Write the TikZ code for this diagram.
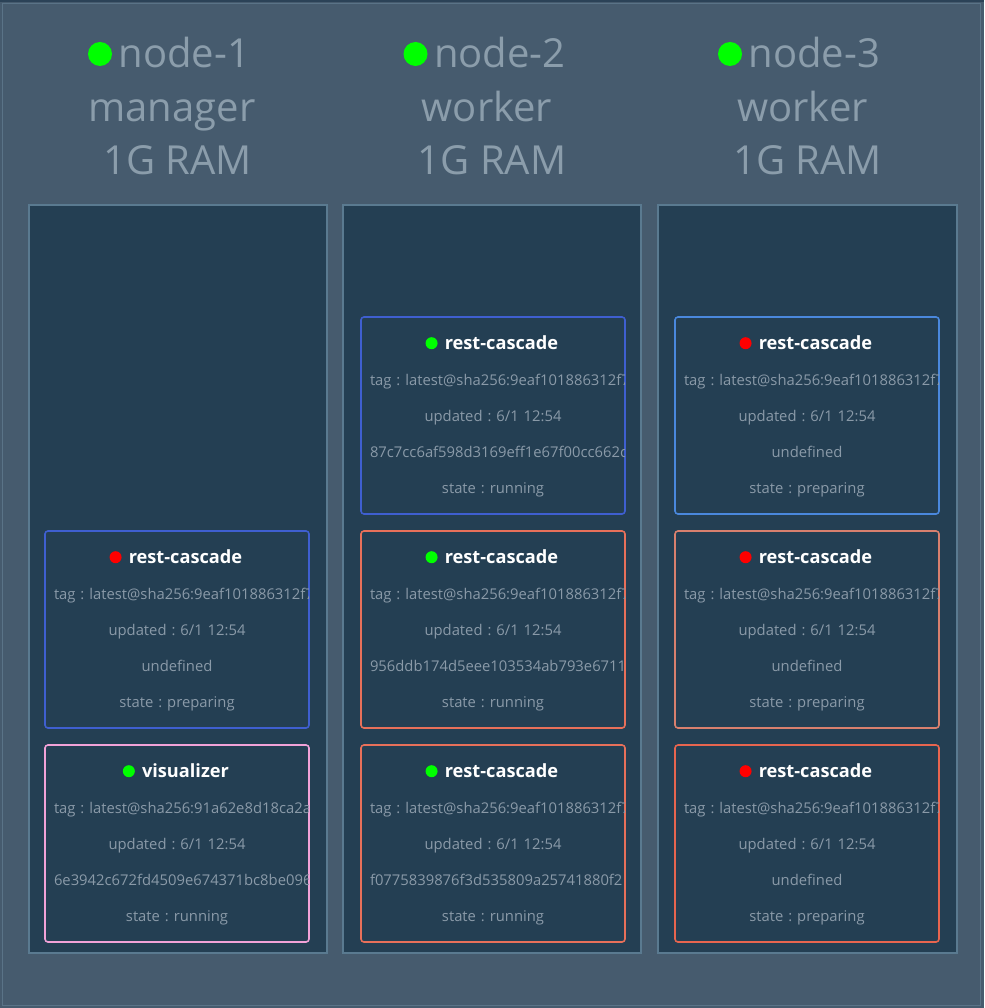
\documentclass[tikz,border=0pt]{standalone}
\usepackage{fontspec}
\setmainfont{Open Sans}
\usetikzlibrary{calc}
\frenchspacing
\definecolor{outerbg}{HTML}{465B6E}
\definecolor{topstrip}{HTML}{2B4257}
\definecolor{framecol}{HTML}{5A7387}
\definecolor{colfill}{HTML}{243F53}
\definecolor{colborder}{HTML}{5A7A90}
\definecolor{headtext}{HTML}{8B9DAB}
\definecolor{bodytext}{HTML}{8A9AA8}
\definecolor{blueA}{HTML}{3F5FD0}
\definecolor{blueB}{HTML}{4A88DD}
\definecolor{pinkc}{HTML}{F2A2D8}
\definecolor{salmonA}{HTML}{E8705A}
\definecolor{salmonB}{HTML}{D9806E}
\definecolor{okgreen}{HTML}{00FF00}
\definecolor{badred}{HTML}{FF0000}
\definecolor{salmonC}{HTML}{E8654F}
\newcommand\cardline[4]{%
  \node[bodytxt, anchor=base] (#1-#2) at ($(#1.north)+(0,#3)$) {\mbox{#4}};}
\newcommand\card[8]{%
  \node[cardbox, draw=#3] (#1) at (#2) {};
  \begin{scope}
    \clip ($(#1.south west)+(1,-1)$) rectangle ($(#1.north east)+(-1,1)$);
    \node[cardtitle, anchor=base] (#1-t) at ($(#1.north)+(8.5,33)$) {#5};
    \node[dotsmall, fill=#4] (#1-d) at ($(#1-t.west |- #1.north)+(-13,27)$) {};
    \cardline{#1}{tag}{69}{#6}
    \cardline{#1}{upd}{105}{updated : 6/1 12:54}
    \cardline{#1}{x}{141}{#7}
    \cardline{#1}{st}{177}{#8}
  \end{scope}}
\tikzset{
  colbox/.style={fill=colfill, draw=colborder, line width=2pt},
  cardbox/.style={fill=colfill, line width=1.6pt, rounded corners=3pt, minimum width=264pt, minimum height=197pt, inner sep=0pt},
  cardtitle/.style={text=white, font=\fontsize{18.2}{22}\selectfont\bfseries, inner sep=0pt},
  bodytxt/.style={text=bodytext, font=\fontsize{14.8}{18}\selectfont\frenchspacing, inner sep=0pt, text width=246pt, align=center},
  headtxt/.style={text=headtext, font=\fontsize{40}{48}\selectfont, inner sep=0pt},
  dotsmall/.style={circle, inner sep=0pt, minimum size=12pt},
  dotbig/.style={circle, inner sep=0pt, minimum size=24pt, fill=okgreen},
}
\begin{document}
\begin{tikzpicture}[x=1pt, y=-1pt]
\useasboundingbox (0,0) rectangle (984,1008);
\fill[outerbg] (0,0) rectangle (984,1008);
\fill[topstrip] (0,0) rectangle (984,2);
\draw[framecol, line width=1.5pt] (2.5,3.5) rectangle (980.5,1005.5);
% columns
\draw[colbox] (29,205) rectangle (327,953);
\draw[colbox] (343,205) rectangle (641,953);
\draw[colbox] (658,205) rectangle (957,953);
% headers
\node[dotbig] (hd1) at (100,54) {};
\node[headtxt, anchor=base west] (h1a) at (118.5,68) {node-1};
\node[headtxt, anchor=base] (h1b) at (172,122) {manager};
\node[headtxt, anchor=base] (h1c) at (177.5,175) {1G RAM};
\node[dotbig] (hd2) at (415.5,54) {};
\node[headtxt, anchor=base west] (h2a) at (434,68) {node-2};
\node[headtxt, anchor=base] (h2b) at (487,122) {worker};
\node[headtxt, anchor=base] (h2c) at (492,175) {1G RAM};
\node[dotbig] (hd3) at (730,54) {};
\node[headtxt, anchor=base west] (h3a) at (748.5,68) {node-3};
\node[headtxt, anchor=base] (h3b) at (802.5,122) {worker};
\node[headtxt, anchor=base] (h3c) at (807.5,175) {1G RAM};
% cards
\card{c11}{177,629.5}{blueA}{badred}{rest-cascade}{tag : latest@sha256:9eaf101886312f7}{undefined}{state : preparing}
\card{c12}{177,843.5}{pinkc}{okgreen}{visualizer}{tag : latest@sha256:91a62e8d18ca2a}{6e3942c672fd4509e674371bc8be096}{state : running}
\card{c21}{493,415.5}{blueA}{okgreen}{rest-cascade}{tag : latest@sha256:9eaf101886312f7}{87c7cc6af598d3169eff1e67f00cc662c}{state : running}
\card{c22}{493,629.5}{salmonA}{okgreen}{rest-cascade}{tag : latest@sha256:9eaf101886312f7}{956ddb174d5eee103534ab793e6711}{state : running}
\card{c23}{493,843.5}{salmonA}{okgreen}{rest-cascade}{tag : latest@sha256:9eaf101886312f7}{f0775839876f3d535809a25741880f2}{state : running}
\card{c31}{807,415.5}{blueB}{badred}{rest-cascade}{tag : latest@sha256:9eaf101886312f7}{undefined}{state : preparing}
\card{c32}{807,629.5}{salmonB}{badred}{rest-cascade}{tag : latest@sha256:9eaf101886312f7}{undefined}{state : preparing}
\card{c33}{807,843.5}{salmonC}{badred}{rest-cascade}{tag : latest@sha256:9eaf101886312f7}{undefined}{state : preparing}
\end{tikzpicture}
\end{document}
